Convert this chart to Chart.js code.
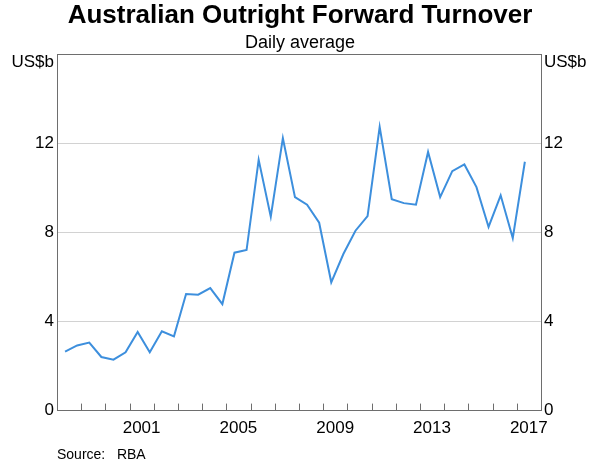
<!DOCTYPE html>
<html>
<head>
<meta charset="utf-8">
<script src="https://cdn.jsdelivr.net/npm/chart.js@4/dist/chart.umd.min.js"></script>
<style>
  body { margin: 0; background: #fff; }
  canvas { display: block; }
</style>
</head>
<body>
<canvas id="turnoverChart" width="600" height="465"></canvas>
<script>
// half-yearly survey periods (April and October)
const periods = [
  "1998-04", "1998-10", "1999-04", "1999-10", "2000-04", "2000-10",
  "2001-04", "2001-10", "2002-04", "2002-10", "2003-04", "2003-10",
  "2004-04", "2004-10", "2005-04", "2005-10", "2006-04", "2006-10",
  "2007-04", "2007-10", "2008-04", "2008-10", "2009-04", "2009-10",
  "2010-04", "2010-10", "2011-04", "2011-10", "2012-04", "2012-10",
  "2013-04", "2013-10", "2014-04", "2014-10", "2015-04", "2015-10",
  "2016-04", "2016-10", "2017-04",
];
// US$b, daily average
const turnover = [
  2.65, 2.93, 3.06, 2.41, 2.29, 2.62, 3.54, 2.62, 3.57, 3.34,
  5.24, 5.21, 5.51, 4.79, 7.1, 7.22, 11.28, 8.72, 12.25, 9.6,
  9.26, 8.45, 5.77, 7.04, 8.09, 8.75, 12.76, 9.51, 9.33, 9.26,
  11.63, 9.6, 10.77, 11.07, 10.05, 8.26, 9.68, 7.76, 11.19,
];
const yearLabels = [2001, 2005, 2009, 2013, 2017];
const yTicks = [0, 4, 8, 12];

const FONT = "Arial, 'Liberation Sans', sans-serif";
const FRAME = "#6e6e6e";

function toYear(p) {
  const [y, m] = p.split("-").map(Number);
  return y + m / 12;
}

// inward year ticks, units and source note
const extras = {
  id: "extras",
  afterDraw(chart) {
    const { ctx, chartArea } = chart;
    const x = chart.scales.x;
    ctx.save();
    ctx.strokeStyle = FRAME;
    ctx.lineWidth = 1;
    for (let yr = x.min + 1; yr < x.max; yr++) {
      const px = Math.round(x.getPixelForValue(yr)) + 0.5;
      ctx.beginPath();
      ctx.moveTo(px, chartArea.bottom);
      ctx.lineTo(px, chartArea.bottom - 7);
      ctx.stroke();
    }
    ctx.fillStyle = "#000";
    ctx.font = "17px " + FONT;
    ctx.textBaseline = "middle";
    ctx.textAlign = "right";
    ctx.fillText("US$b", chartArea.left - 3, chartArea.top + 8);
    ctx.textAlign = "left";
    ctx.fillText("US$b", chartArea.right + 3, chartArea.top + 8);
    ctx.font = "14px " + FONT;
    ctx.fillText("Source:   RBA", chartArea.left, 455);
    ctx.restore();
  },
};

document.addEventListener("DOMContentLoaded", () => {
  const ctx = document.getElementById("turnoverChart").getContext("2d");
  const yTickOpts = {
    stepSize: 4,
    padding: 3,
    color: "#000",
    font: { family: FONT, size: 17 },
    callback: (v) => (yTicks.includes(v) ? String(v) : ""),
  };
  new Chart(ctx, {
    type: "line",
    data: {
      datasets: [
        {
          data: periods.map((p, i) => ({ x: toYear(p), y: turnover[i] })),
          borderColor: "#3d8fdd",
          borderWidth: 2,
          pointRadius: 0,
          tension: 0,
        },
      ],
    },
    options: {
      responsive: false,
      animation: false,
      layout: { padding: { left: 0, right: 0, bottom: 18 } },
      scales: {
        x: {
          type: "linear",
          min: 1998,
          max: 2018,
          grid: { display: false, drawTicks: false },
          border: { display: true, color: FRAME },
          ticks: {
            stepSize: 1,
            autoSkip: false,
            maxRotation: 0,
            padding: 8,
            labelOffset: 12,
            color: "#000",
            font: { family: FONT, size: 17 },
            callback: (v) => (yearLabels.includes(v) ? String(v) : ""),
          },
        },
        y: {
          position: "left",
          min: 0,
          max: 16,
          ticks: yTickOpts,
          border: { display: true, color: FRAME },
          grid: {
            drawTicks: false,
            color: (c) => (c.tick.value === 16 ? FRAME : c.tick.value === 0 ? "transparent" : "#d2d2d2"),
          },
          afterFit: (scale) => { scale.width = 57; },
        },
        y2: {
          position: "right",
          min: 0,
          max: 16,
          ticks: yTickOpts,
          border: { display: true, color: FRAME },
          grid: { display: false, drawTicks: false },
          afterFit: (scale) => { scale.width = 59; },
        },
      },
      plugins: {
        legend: { display: false },
        tooltip: { enabled: false },
        title: {
          display: true,
          text: "Australian Outright Forward Turnover",
          color: "#000",
          font: { family: FONT, size: 26, weight: "bold" },
          padding: { top: 0, bottom: 0 },
        },
        subtitle: {
          display: true,
          text: "Daily average",
          color: "#000",
          font: { family: FONT, size: 18 },
          padding: { top: 1, bottom: 1 },
        },
      },
    },
    plugins: [extras],
  });
});
</script>
</body>
</html>
